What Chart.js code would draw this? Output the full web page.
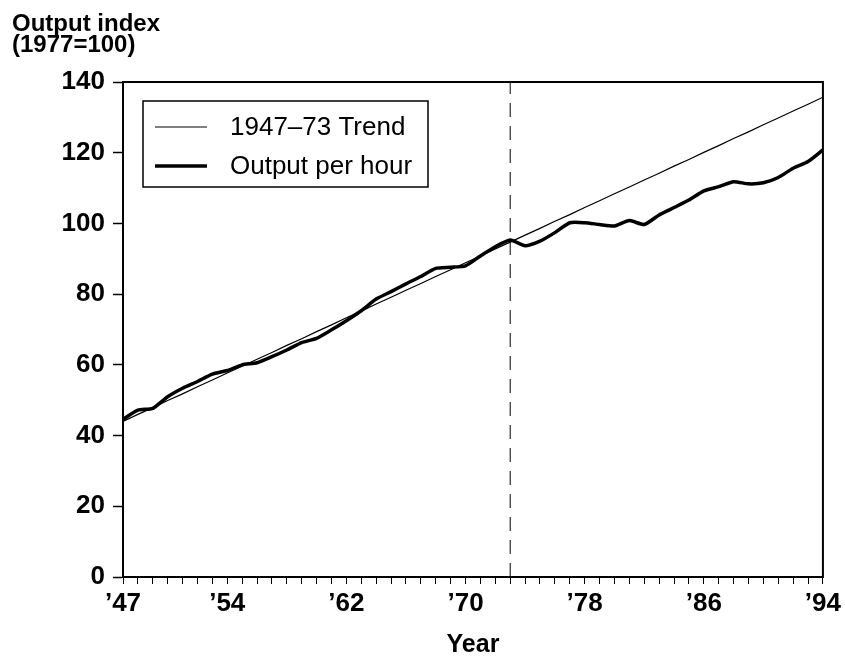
<!DOCTYPE html>
<html lang="en">
<head>
<meta charset="utf-8">
<title>Output per hour</title>
<script src="https://cdn.jsdelivr.net/npm/chart.js@4.4.0/dist/chart.umd.min.js"></script>
<style>
  body { margin: 0; background: #fff; }
  canvas { display: block; }
</style>
</head>
<body>
<canvas id="myChart" width="845" height="663"></canvas>
<script>
// chart values
const years = [1947, 1948, 1949, 1950, 1951, 1952, 1953, 1954, 1955, 1956, 1957, 1958,
  1959, 1960, 1961, 1962, 1963, 1964, 1965, 1966, 1967, 1968, 1969, 1970, 1971, 1972,
  1973, 1974, 1975, 1976, 1977, 1978, 1979, 1980, 1981, 1982, 1983, 1984, 1985, 1986,
  1987, 1988, 1989, 1990, 1991, 1992, 1993, 1994];
const outputPerHour = [44.6, 47.2, 47.7, 51.0, 53.4, 55.3, 57.4, 58.4, 60.0, 60.6, 62.3, 64.2,
  66.3, 67.5, 69.9, 72.5, 75.3, 78.6, 80.7, 82.9, 85.0, 87.3, 87.6, 88.0, 90.8, 93.4,
  95.3, 93.7, 95.0, 97.4, 100.2, 100.2, 99.7, 99.3, 100.8, 99.7, 102.4, 104.5, 106.6, 109.2,
  110.4, 111.8, 111.2, 111.5, 113.0, 115.6, 117.5, 120.8];
const trend = [44.0, 46.0, 47.9, 49.9, 51.8, 53.8, 55.7, 57.7, 59.6, 61.6, 63.5, 65.5,
  67.4, 69.4, 71.3, 73.3, 75.2, 77.2, 79.1, 81.1, 83.0, 85.0, 86.9, 88.9, 90.8, 92.8,
  94.7, 96.7, 98.6, 100.6, 102.5, 104.5, 106.4, 108.4, 110.3, 112.3, 114.2, 116.2, 118.1, 120.1,
  122.0, 124.0, 125.9, 127.9, 129.8, 131.8, 133.7, 135.7];
const breakYear = 1973;
const tickYears = [1947, 1954, 1962, 1970, 1978, 1986, 1994];
const tickLabels = ["\u201947", "\u201954", "\u201962", "\u201970", "\u201978", "\u201986", "\u201994"];
const yTicks = [0, 20, 40, 60, 80, 100, 120, 140];
const titleLines = ["Output index", "(1977=100)"];
const xTitle = "Year";
const seriesNames = ["1947\u201373 Trend", "Output per hour"];

const FONT = "'Liberation Sans', Arial, sans-serif";

function pts(xs, ys) {
    return xs.map((x, i) => ({ x: x, y: ys[i] }));
}

// frame, heading and legend box drawn over the chart
const extras = {
    id: 'extras',
    afterDraw(chart) {
        const ctx = chart.ctx;
        const a = chart.chartArea;
        ctx.save();
        // plot frame
        ctx.strokeStyle = '#000';
        ctx.lineWidth = 2;
        ctx.strokeRect(a.left, a.top, a.right - a.left, a.bottom - a.top);

        // heading
        ctx.fillStyle = '#000';
        ctx.font = 'bold 24px ' + FONT;
        ctx.textAlign = 'left';
        ctx.textBaseline = 'alphabetic';
        ctx.fillText(titleLines[0], 12, 31);
        ctx.fillText(titleLines[1], 12, 52);

        // legend
        const lx = a.left + 20, ly = a.top + 19;
        ctx.lineWidth = 1.5;
        ctx.strokeRect(lx, ly, 285, 86);
        ctx.font = '26px ' + FONT;
        ctx.textBaseline = 'middle';
        const items = chart.data.datasets.filter(d => d.label);
        items.forEach((d, i) => {
            const y = ly + 26 + i * 39;
            ctx.beginPath();
            ctx.lineWidth = d.borderWidth;
            ctx.strokeStyle = d.borderColor;
            ctx.moveTo(lx + 12, y);
            ctx.lineTo(lx + 64, y);
            ctx.stroke();
            ctx.fillText(d.label, lx + 87, y + 1);
        });
        ctx.restore();
    }
};

const ctx = document.getElementById('myChart').getContext('2d');
const myChart = new Chart(ctx, {
    type: 'line',
    data: {
        datasets: [
            {
                label: seriesNames[0],
                data: pts(years, trend),
                borderColor: '#000',
                borderWidth: 1.2,
                pointRadius: 0,
                tension: 0
            },
            {
                label: seriesNames[1],
                data: pts(years, outputPerHour),
                borderColor: '#000',
                borderWidth: 3.5,
                pointRadius: 0,
                tension: 0.2
            },
            {
                label: '',
                data: [{ x: breakYear, y: yTicks[0] }, { x: breakYear, y: yTicks[yTicks.length - 1] }],
                borderColor: '#000',
                borderWidth: 1,
                borderDash: [14, 9],
                pointRadius: 0
            }
        ]
    },
    options: {
        responsive: false,
        animation: false,
        devicePixelRatio: 1,
        layout: { padding: { left: 0, top: 82, right: 21, bottom: 0 } },
        plugins: {
            legend: { display: false },
            tooltip: { enabled: false }
        },
        scales: {
            x: {
                type: 'linear',
                min: years[0],
                max: years[years.length - 1],
                afterFit(scale) { scale.height = 86; },
                border: { color: '#000', width: 2 },
                grid: {
                    drawOnChartArea: false,
                    tickLength: 7,
                    tickColor: '#000',
                    tickWidth: 1
                },
                ticks: {
                    stepSize: 1,
                    autoSkip: false,
                    maxRotation: 0,
                    padding: 4,
                    color: '#000',
                    font: { family: FONT, size: 26, weight: 'bold' },
                    callback(v) {
                        const i = tickYears.indexOf(v);
                        return i >= 0 ? tickLabels[i] : '';
                    }
                },
                title: {
                    display: true,
                    text: xTitle,
                    color: '#000',
                    font: { family: FONT, size: 25, weight: 'bold' },
                    padding: { top: 0, bottom: 3 }
                }
            },
            y: {
                min: yTicks[0],
                max: yTicks[yTicks.length - 1],
                afterFit(scale) { scale.width = 123; },
                border: { color: '#000', width: 2 },
                grid: {
                    drawOnChartArea: false,
                    tickLength: 10,
                    tickColor: '#000',
                    tickWidth: 1.5
                },
                ticks: {
                    stepSize: 20,
                    padding: 8,
                    color: '#000',
                    font: { family: FONT, size: 26, weight: 'bold' }
                }
            }
        }
    },
    plugins: [extras]
});
</script>
</body>
</html>
